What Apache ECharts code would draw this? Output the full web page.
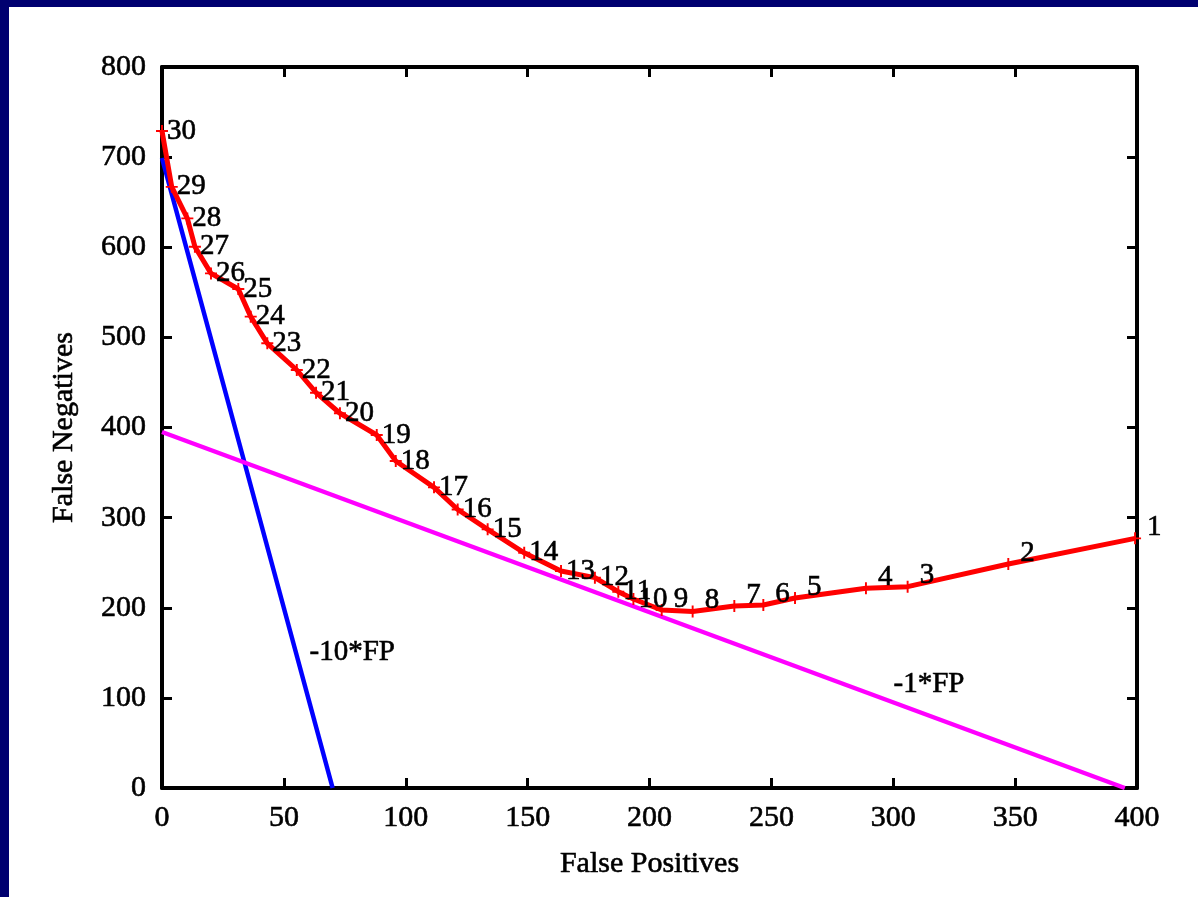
<!DOCTYPE html>
<html><head><meta charset="utf-8">
<script src="https://cdn.jsdelivr.net/npm/echarts@6/dist/echarts.min.js"></script>
<style>html,body{margin:0;padding:0;background:#fff}#c{width:1198px;height:897px}</style>
</head><body><div id="c"></div>
<script>
// ---- data ----
const pointLabels = ['1','2','3','4','5','6','7','8','9','10','11','12','13','14','15','16','17','18','19','20','21','22','23','24','25','26','27','28','29','30'];
const falsePositives = [399.2,347.2,305.9,288.8,259.7,246.7,234.8,217.7,205.0,193.4,187.2,177.6,163.7,148.6,133.6,121.3,111.6,95.9,88.1,73.0,63.2,55.3,43.2,36.4,31.3,20.1,13.5,10.4,4.0,0.0];
const falseNegatives = [277.0,248.5,223.4,221.6,210.8,203.0,202.0,195.8,197.5,209.7,217.8,233.4,240.8,261.0,287.0,309.0,333.6,362.8,391.7,415.8,438.6,463.8,493.4,523.0,553.7,571.0,600.6,632.0,667.0,729.0];
const tenFPx = [0, 70];
const tenFPy = [699, 0];
const oneFPx = [0, 395];
const oneFPy = [395, 0];
const annotationText = ['-10*FP', '-1*FP'];
const annotationX = [60.3, 299.9];
const annotationY = [150.3, 115.4];
const xTickValues = [0,50,100,150,200,250,300,350,400];
const yTickValues = [0,100,200,300,400,500,600,700,800];
const xTitle = 'False Positives';
const yTitle = 'False Negatives';

// ---- build chart ----
const FONT = "'Liberation Serif', 'Times New Roman', serif";
const TXT = { color: '#000', fontFamily: FONT, textBorderColor: '#000', textBorderWidth: 0.6 };
const zip = (a, b) => a.map((v, i) => [v, b[i]]);
const plusPath = 'path://M0,4.2H10V5.8H0Z M4.2,0H5.8V10H4.2Z';

// labels of the flat right-hand part (points 1-9) sit raised above their points
const redData = zip(falsePositives, falseNegatives).map((p, i) => {
  const raised = Number(pointLabels[i]) <= 9;
  return {
    value: p,
    label: raised ? { offset: [7, -11] } : { offset: [0, 0] }
  };
});

const axisCommon = {
  type: 'value',
  min: 0,
  splitLine: { show: false },
  axisLine: { show: true, onZero: false, lineStyle: { color: '#000', width: 4 } },
  axisTick: { show: true, inside: true, length: 10, lineStyle: { color: '#000', width: 3 } }
};

const option = {
  backgroundColor: '#fff',
  animation: false,
  grid: { left: 162, right: 61, top: 67, bottom: 109 },
  xAxis: [
    Object.assign({}, axisCommon, {
      position: 'bottom', max: xTickValues[xTickValues.length - 1], interval: 50,
      axisLabel: Object.assign({ show: true, margin: 15, fontSize: 30,
        formatter: v => xTickValues.includes(v) ? String(v) : '' }, TXT),
      name: xTitle, nameLocation: 'middle', nameGap: 61,
      nameTextStyle: Object.assign({ fontSize: 30 }, TXT)
    }),
    Object.assign({}, axisCommon, {
      position: 'top', max: xTickValues[xTickValues.length - 1], interval: 50,
      axisLabel: { show: false }
    })
  ],
  yAxis: [
    Object.assign({}, axisCommon, {
      position: 'left', max: yTickValues[yTickValues.length - 1], interval: 100,
      axisLabel: Object.assign({ show: true, margin: 16, fontSize: 30,
        formatter: v => yTickValues.includes(v) ? String(v) : '' }, TXT),
      name: yTitle, nameLocation: 'middle', nameGap: 83,
      nameTextStyle: Object.assign({ fontSize: 30 }, TXT)
    }),
    Object.assign({}, axisCommon, {
      position: 'right', max: yTickValues[yTickValues.length - 1], interval: 100,
      axisLabel: { show: false }
    })
  ],
  graphic: [
    { type: 'rect', left: 0, top: 0, shape: { width: 1198, height: 7 }, style: { fill: '#000070' }, z: 100 },
    { type: 'rect', left: 0, top: 0, shape: { width: 9, height: 897 }, style: { fill: '#000070' }, z: 100 }
  ],
  series: [
    {
      type: 'line', name: '-10*FP', data: zip(tenFPx, tenFPy),
      symbol: 'none', lineStyle: { color: '#0000ff', width: 4.5 }, z: 2
    },
    {
      type: 'line', name: '-1*FP', data: zip(oneFPx, oneFPy),
      symbol: 'none', lineStyle: { color: '#ff00ff', width: 4.5 }, z: 2
    },
    {
      type: 'line', name: 'cost', data: redData,
      symbol: plusPath, symbolSize: 12, showAllSymbol: true,
      itemStyle: { color: '#ff0000' },
      lineStyle: { color: '#ff0000', width: 5 },
      label: Object.assign({
        show: true, position: 'right', distance: -1,
        formatter: p => pointLabels[p.dataIndex], fontSize: 29
      }, TXT),
      z: 3
    },
    {
      type: 'scatter', data: zip(annotationX, annotationY),
      symbolSize: 1, itemStyle: { color: 'transparent', opacity: 1 },
      label: Object.assign({
        show: true, position: 'right', distance: 0,
        formatter: p => annotationText[p.dataIndex], fontSize: 29
      }, TXT),
      z: 4
    }
  ]
};

echarts.init(document.getElementById('c')).setOption(option);
</script>
</body></html>
